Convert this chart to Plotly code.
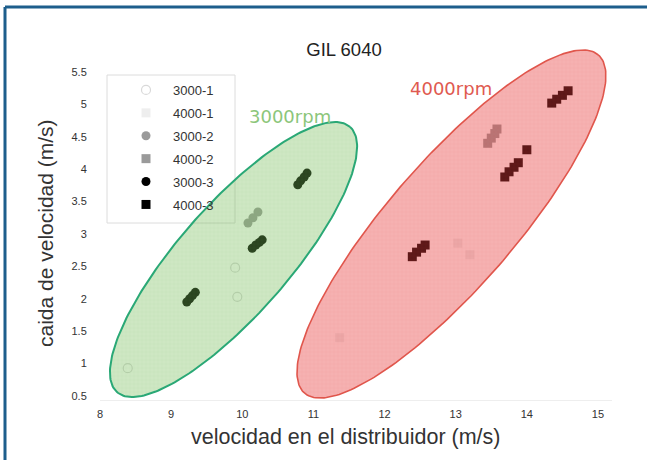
import numpy as np
import plotly.graph_objects as go

# ---------------- data ----------------
s3000_1_x = [8.39, 9.90, 9.93]
s3000_1_y = [0.93, 2.48, 2.03]
s4000_1_x = [11.37, 13.03, 13.20]
s4000_1_y = [1.40, 2.86, 2.68]
s3000_2_x = [10.08, 10.15, 10.22]
s3000_2_y = [3.17, 3.25, 3.34]
s4000_2_x = [13.45, 13.50, 13.55, 13.58]
s4000_2_y = [4.40, 4.48, 4.55, 4.62]
s3000_3_x = [9.22, 9.26, 9.30, 9.34, 10.14, 10.19, 10.24, 10.28, 10.78, 10.82, 10.87, 10.91]
s3000_3_y = [1.95, 2.00, 2.05, 2.10, 2.78, 2.83, 2.87, 2.91, 3.76, 3.82, 3.88, 3.94]
s4000_3_x = [12.39, 12.45, 12.52, 12.57, 13.69, 13.75, 13.82, 13.88, 14.00, 14.35, 14.42, 14.50, 14.58]
s4000_3_y = [2.65, 2.72, 2.78, 2.83, 3.88, 3.96, 4.03, 4.10, 4.30, 5.02, 5.08, 5.14, 5.21]

series_names = ["3000-1", "4000-1", "3000-2", "4000-2", "3000-3", "4000-3"]
x_ticks = [8, 9, 10, 11, 12, 13, 14, 15]
y_ticks = [0.5, 1, 1.5, 2, 2.5, 3, 3.5, 4, 4.5, 5, 5.5]
y_ticktext = ["0.5", "1", "1.5", "2", "2.5", "3", "3.5", "4", "4.5", "5", "5.5"]

# ellipse groups: center (data), semi-axes (px), tilt (deg)
ell_green_center = (9.877, 2.606)
ell_green_axes = (176.5, 55.0)
ell_green_angle = 48.7
ell_red_center = (12.94, 3.154)
ell_red_axes = (224.0, 63.0)
ell_red_angle = 49.0

# ---------------- layout geometry ----------------
W, H = 647, 460
PX_X, PX_Y = 71.14, 64.8          # pixels per data unit
X0, X1, Y0, Y1 = 100, 612, 46, 400  # plot area in pixels
ML, MR, MT, MB = X0, W - X1, Y0, H - Y1
PW, PH = X1 - X0, Y1 - Y0
XR = [8, 8 + PW / PX_X]
YR = [0.5 - (Y1 - 396) / PX_Y, 0.5 - (Y1 - 396) / PX_Y + PH / PX_Y]


def px2paper(px, py):
    return (px - X0) / PW, (Y1 - py) / PH


def ellipse(center, axes, angle):
    t = np.linspace(0, 2 * np.pi, 241)
    th = np.deg2rad(angle)
    a, b = axes
    dx = a * np.cos(t) * np.cos(th) - b * np.sin(t) * np.sin(th)
    dy = a * np.cos(t) * np.sin(th) + b * np.sin(t) * np.cos(th)
    return center[0] + dx / PX_X, center[1] + dy / PX_Y


fig = go.Figure()

# legend box (under the ellipses, like the original)
lx0, ly0 = px2paper(107, 75)
lx1, ly1 = px2paper(235, 223)
fig.add_shape(type="rect", xref="paper", yref="paper", x0=lx0, y0=ly1, x1=lx1, y1=ly0,
              fillcolor="white", line=dict(color="#dcdcdc", width=1), layer="below")

styles = [
    (s3000_1_x, s3000_1_y, "circle-open", "#d9d9d9"),
    (s4000_1_x, s4000_1_y, "square", "#eeeeee"),
    (s3000_2_x, s3000_2_y, "circle", "#9a9a9a"),
    (s4000_2_x, s4000_2_y, "square", "#9a9a9a"),
    (s3000_3_x, s3000_3_y, "circle", "#000000"),
    (s4000_3_x, s4000_3_y, "square", "#000000"),
]
for name, (xs, ys, sym, col) in zip(series_names, styles):
    fig.add_trace(go.Scatter(
        x=xs, y=ys, mode="markers", name=name, legendgroup=name,
        marker=dict(symbol=sym, color=col, size=9,
                    line=dict(width=1.2 if "open" in sym else 0, color=col)),
    ))

gx, gy = ellipse(ell_green_center, ell_green_axes, ell_green_angle)
fig.add_trace(go.Scatter(
    x=gx, y=gy, mode="lines", fill="toself", showlegend=False, hoverinfo="skip",
    line=dict(color="#2aa876", width=2),
    fillcolor="rgba(120,190,90,0.36)",
    fillpattern=dict(shape="+", size=4, solidity=0.12,
                     fgcolor="rgba(90,160,70,0.30)", bgcolor="rgba(120,190,90,0.36)"),
))
rx, ry = ellipse(ell_red_center, ell_red_axes, ell_red_angle)
fig.add_trace(go.Scatter(
    x=rx, y=ry, mode="lines", fill="toself", showlegend=False, hoverinfo="skip",
    line=dict(color="#e0564c", width=1.6),
    fillcolor="rgba(232,60,60,0.40)",
    fillpattern=dict(shape="+", size=4, solidity=0.12,
                     fgcolor="rgba(200,50,50,0.30)", bgcolor="rgba(232,60,60,0.40)"),
))

fig.add_annotation(x=10.67, y=4.82, text="3000rpm", showarrow=False,
                   font=dict(family="DejaVu Sans", size=18, color="#8cc67a"))
fig.add_annotation(x=12.93, y=5.25, text="4000rpm", showarrow=False,
                   font=dict(family="DejaVu Sans", size=18, color="#e05a50"))

# axis titles
tx, ty = px2paper(346, 437)
fig.add_annotation(x=tx, y=ty, xref="paper", yref="paper", showarrow=False,
                   text="velocidad en el distribuidor (m/s)", xanchor="center", yanchor="middle",
                   font=dict(family="Arial", size=21.5, color="#333"))
tx, ty = px2paper(45, 233)
fig.add_annotation(x=tx, y=ty, xref="paper", yref="paper", showarrow=False, textangle=-90,
                   text="caida de velocidad (m/s)", xanchor="center", yanchor="middle",
                   font=dict(family="Arial", size=21, color="#333"))

# frame lines (top and left)
fx0, fy0 = px2paper(5, 7)
fx1, fy1 = px2paper(W, H)
fig.add_shape(type="line", xref="paper", yref="paper", x0=fx0, x1=fx1, y0=fy0, y1=fy0,
              line=dict(color="#1d5e8c", width=3))
fig.add_shape(type="line", xref="paper", yref="paper", x0=fx0, x1=fx0, y0=fy0, y1=fy1,
              line=dict(color="#1d5e8c", width=3))

legx, legy = px2paper(119, 75)
fig.update_layout(
    width=W, height=H,
    margin=dict(l=ML, r=MR, t=MT, b=MB),
    paper_bgcolor="white", plot_bgcolor="white",
    title=dict(text="GIL 6040", x=344 / W, xanchor="center", y=1 - 50 / H, yanchor="middle",
               font=dict(family="Arial", size=18.5, color="#222")),
    xaxis=dict(range=XR, tickvals=x_ticks, showgrid=False, zeroline=False,
               showline=True, linecolor="#eeeeee", ticks="outside", ticklen=4,
               tickcolor="rgba(0,0,0,0)",
               tickfont=dict(family="Arial", size=11, color="#333")),
    yaxis=dict(range=YR, tickvals=y_ticks, ticktext=y_ticktext,
               showgrid=False, zeroline=False, showline=False,
               ticks="outside", ticklen=10, tickcolor="rgba(0,0,0,0)",
               tickfont=dict(family="Arial", size=11, color="#333")),
    legend=dict(x=legx, y=legy, xanchor="left", yanchor="top",
                bgcolor="rgba(0,0,0,0)", borderwidth=0, itemwidth=44,
                tracegroupgap=3,
                font=dict(family="Arial", size=13, color="#333")),
    showlegend=True,
)

fig.write_html("out.html")
